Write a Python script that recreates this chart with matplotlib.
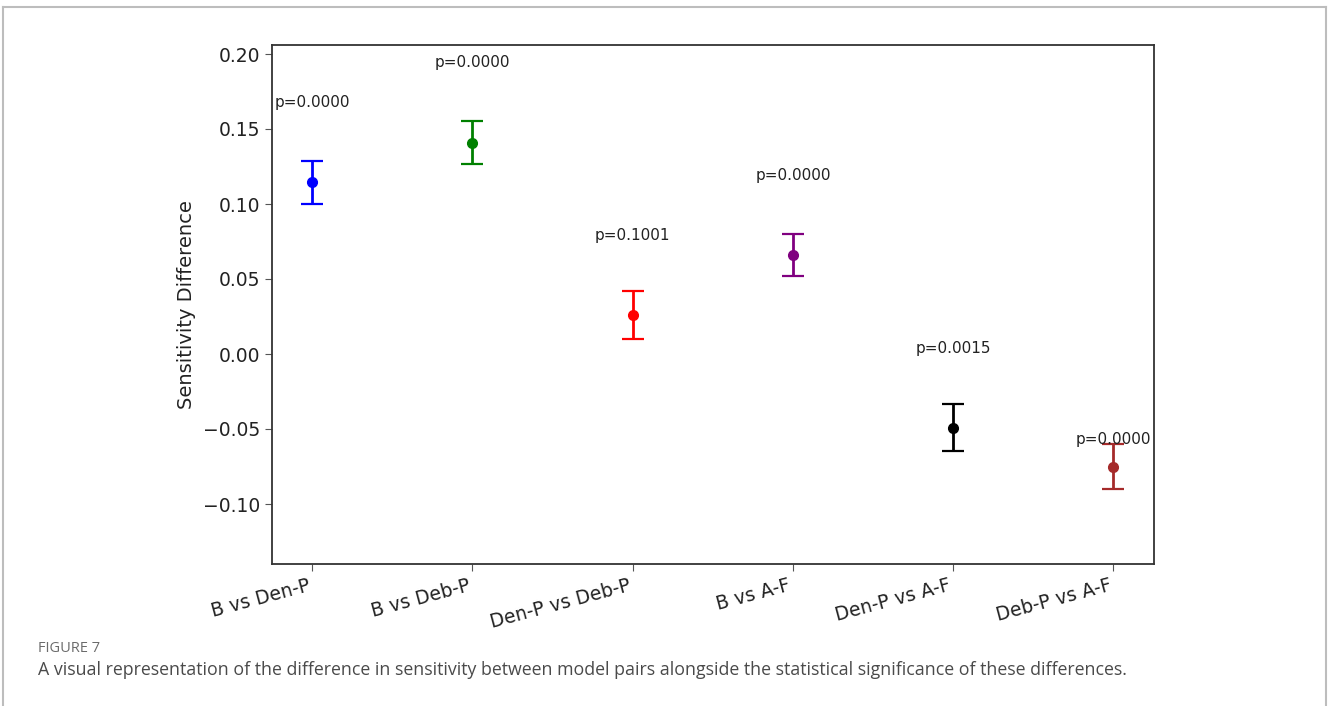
import numpy as np
import matplotlib.pyplot as plt
from matplotlib.lines import Line2D

# dane
pairs = ["B vs Den-P", "B vs Deb-P", "Den-P vs Deb-P", "B vs A-F", "Den-P vs A-F", "Deb-P vs A-F"]
diffs = [0.1145, 0.141, 0.026, 0.066, -0.049, -0.075]
errors = [0.0145, 0.0145, 0.016, 0.014, 0.0155, 0.015]
p_values = [0.0000, 0.0000, 0.1001, 0.0000, 0.0015, 0.0000]
colors = ["blue", "green", "red", "purple", "black", "brown"]

caption_head = "FIGURE 7"
caption_text = ("A visual representation of the difference in sensitivity between model pairs "
                "alongside the statistical significance of these differences.")

W, H = 1329, 706
fig = plt.figure(figsize=(W / 100, H / 100), dpi=100)

# ramka strony
frame_col = "#bdbdbd"
x0, x1, y0 = 3 / W, 1326 / W, 1 - 7 / H
fig.add_artist(Line2D([x0, x1], [y0, y0], transform=fig.transFigure, color=frame_col, lw=1.5))
fig.add_artist(Line2D([x0, x0], [y0, 0], transform=fig.transFigure, color=frame_col, lw=1.5))
fig.add_artist(Line2D([x1, x1], [y0, 0], transform=fig.transFigure, color=frame_col, lw=1.5))

ax = fig.add_axes([272 / W, 1 - 564 / H, 881.5 / W, 519 / H])
x = np.arange(len(pairs))
for i in range(len(pairs)):
    ax.errorbar(x[i], diffs[i], yerr=errors[i], fmt="o", color=colors[i],
                markersize=7, elinewidth=2, capsize=8, capthick=1.6)
    # ostatnia etykieta lezy tuz nad slupkiem bledu
    if i == len(pairs) - 1:
        ty = diffs[i] + errors[i] - 0.002
    else:
        ty = diffs[i] + 0.048
    ax.text(x[i], ty, f"p={p_values[i]:.4f}", ha="center", va="bottom", fontsize=11, color="#222222")

ax.set_xticks(x)
ax.set_xticklabels(pairs, rotation=15, ha="right", fontsize=13.5, color="#222222")
ax.tick_params(axis="y", labelsize=13.5, labelcolor="#222222", length=5, color="#555555")
ax.tick_params(axis="x", length=5, color="#555555")
ax.set_yticks([-0.10, -0.05, 0.00, 0.05, 0.10, 0.15, 0.20])
ax.set_xlim(-0.25, 5.25)
ax.set_ylim(-0.14, 0.206)
ax.set_ylabel("Sensitivity Difference", fontsize=14, color="#222222", labelpad=5)
for s in ax.spines.values():
    s.set_color("#333333")
    s.set_linewidth(1.3)

fig.text(38 / W, 1 - 648 / H, caption_head, fontsize=10.5, color="#6b6b6b",
         family="Open Sans", va="center")
fig.text(38 / W, 1 - 670 / H, caption_text, fontsize=12.8, color="#4a4a4a",
         family="Open Sans", va="center")

fig.savefig("out.png", dpi=100)
